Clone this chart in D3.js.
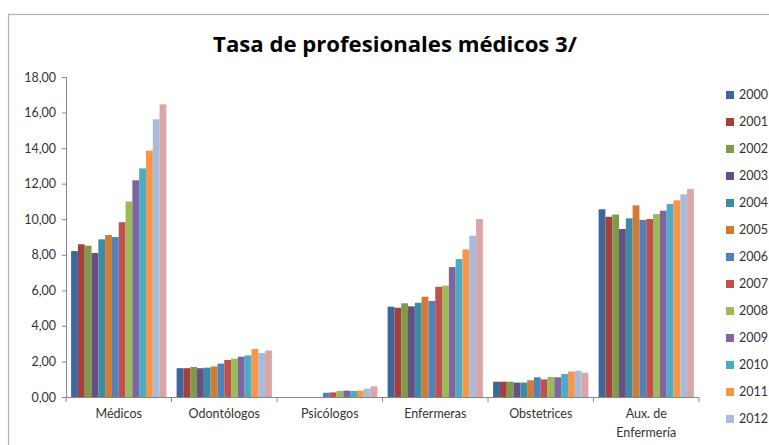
<!DOCTYPE html>
<html>
<head>
<meta charset="utf-8">
<script src="https://cdn.jsdelivr.net/npm/d3@7"></script>
<style>
  body { margin: 0; background: #fff; }
  svg { display: block; font-family: Lato, "Open Sans", sans-serif; }
</style>
</head>
<body>
<svg id="chart" width="769" height="445"></svg>
<script>
// data
var categories = ["Médicos", "Odontólogos", "Psicólogos", "Enfermeras", "Obstetrices", "Aux. de Enfermería"];
var years = ["2000","2001","2002","2003","2004","2005","2006","2007","2008","2009","2010","2011","2012","2013"];
var medicos     = [8.21, 8.59, 8.51, 8.10, 8.87, 9.11, 9.00, 9.83, 11.00, 12.19, 12.86, 13.86, 15.62, 16.46];
var odontologos = [1.62, 1.62, 1.69, 1.62, 1.65, 1.72, 1.88, 2.08, 2.16, 2.27, 2.34, 2.70, 2.48, 2.61];
var psicologos  = [null, null, null, null, null, null, 0.24, 0.26, 0.34, 0.36, 0.34, 0.36, 0.47, 0.60];
var enfermeras  = [5.08, 5.02, 5.27, 5.10, 5.30, 5.64, 5.40, 6.20, 6.26, 7.31, 7.76, 8.30, 9.07, 10.01];
var obstetrices = [0.86, 0.86, 0.86, 0.81, 0.81, 0.94, 1.11, 0.99, 1.13, 1.11, 1.29, 1.43, 1.48, 1.37];
var auxEnf      = [10.56, 10.14, 10.26, 9.45, 10.05, 10.78, 9.96, 10.01, 10.29, 10.48, 10.86, 11.06, 11.40, 11.70];
var yTicks = [0, 2, 4, 6, 8, 10, 12, 14, 16, 18];
var colors = ["#3d679c","#a3403d","#7f9a48","#654f84","#3a8da5","#d17b34","#4f81bd","#c0504d",
              "#9bbb59","#8064a2","#4bacc6","#f79646","#a8bbdc","#daa6a5"];

var series = [medicos, odontologos, psicologos, enfermeras, obstetrices, auxEnf];

var W = 769, H = 445;
var svg = d3.select("#chart");

// chart frame (runs off the right edge like the screenshot)
svg.append("rect")
    .attr("x", 8.5).attr("y", 14.5)
    .attr("width", 800).attr("height", 500)
    .attr("fill", "none")
    .attr("stroke", "#b0b0b0")
    .attr("stroke-width", 1.2);

var x0 = d3.scaleBand().domain(categories).range([66, 699]).paddingInner(0).paddingOuter(0);
var x1 = d3.scaleBand().domain(years).range([0, x0.bandwidth()]).paddingInner(0).paddingOuter(0.75);
var y = d3.scaleLinear().domain([0, 18]).range([397, 77]);
var color = d3.scaleOrdinal().domain(years).range(colors);

// title
var title = svg.append("text")
    .attr("x", 395).attr("y", 52)
    .attr("text-anchor", "middle")
    .attr("font-family", "'Open Sans', sans-serif")
    .attr("font-weight", "bold")
    .attr("font-size", 22)
    .attr("fill", "#000")
    .text("Tasa de profesionales médicos 3/");
var tw = title.node().getComputedTextLength();
title.attr("font-size", 22 * 364 / tw);

// y axis
var yAxis = svg.append("g")
    .attr("transform", "translate(66,0)")
    .call(d3.axisLeft(y).tickValues(yTicks).tickSize(4).tickPadding(6)
        .tickFormat(function(d) { return d3.format(".2f")(d).replace(".", ","); }));
yAxis.select(".domain").attr("stroke", "#868686");
yAxis.selectAll(".tick line").attr("stroke", "#868686");
yAxis.selectAll("text").attr("font-size", 12.5).attr("fill", "#333")
    .attr("font-family", "Lato, sans-serif");

// bars
var groups = svg.append("g").selectAll("g")
    .data(categories)
    .enter().append("g")
    .attr("transform", function(d) { return "translate(" + x0(d) + ",0)"; });

groups.selectAll("rect")
    .data(function(d, i) {
        return years.map(function(yr, j) { return { year: yr, value: series[i][j] }; })
            .filter(function(e) { return e.value != null; });
    })
    .enter().append("rect")
    .attr("x", function(d) { return x1(d.year); })
    .attr("width", x1.bandwidth())
    .attr("y", function(d) { return y(d.value); })
    .attr("height", function(d) { return y(0) - y(d.value); })
    .attr("fill", function(d) { return color(d.year); });

// x axis line and ticks at category boundaries
svg.append("line")
    .attr("x1", 66).attr("x2", 699)
    .attr("y1", 397.5).attr("y2", 397.5)
    .attr("stroke", "#868686");
var bounds = categories.map(function(c) { return x0(c); }).concat([x0.range()[1]]);
svg.append("g").selectAll("line")
    .data(bounds)
    .enter().append("line")
    .attr("x1", function(d) { return d; }).attr("x2", function(d) { return d; })
    .attr("y1", 397).attr("y2", 402)
    .attr("stroke", "#868686");

// category labels
var labels = { "Aux. de Enfermería": ["Aux. de", "Enfermería"] };
svg.append("g").selectAll("text")
    .data(categories)
    .enter().append("text")
    .attr("x", function(d) { return x0(d) + x0.bandwidth() / 2; })
    .attr("y", 418)
    .attr("text-anchor", "middle")
    .attr("font-size", 12.5)
    .attr("fill", "#333")
    .each(function(d) {
        var lines = labels[d] || [d];
        var t = d3.select(this);
        lines.forEach(function(l, k) {
            t.append("tspan")
                .attr("x", x0(d) + x0.bandwidth() / 2)
                .attr("dy", k === 0 ? 0 : 19)
                .text(l);
        });
    });

// legend: rows that do not fit in the window are left out, as in the screenshot
var rowH = 27, legendTop = 95;
var legendYears = years.filter(function(d, i) { return legendTop + i * rowH + 8 < H; });
var legend = svg.append("g").selectAll("g")
    .data(legendYears)
    .enter().append("g")
    .attr("transform", function(d, i) { return "translate(726," + (legendTop + i * rowH) + ")"; });
legend.append("rect")
    .attr("x", 0).attr("y", -4)
    .attr("width", 8).attr("height", 8)
    .attr("fill", function(d) { return color(d); });
legend.append("text")
    .attr("x", 13).attr("y", 0)
    .attr("dy", "0.35em")
    .attr("font-size", 12.5)
    .attr("fill", "#333")
    .text(function(d) { return d; });
</script>
</body>
</html>
